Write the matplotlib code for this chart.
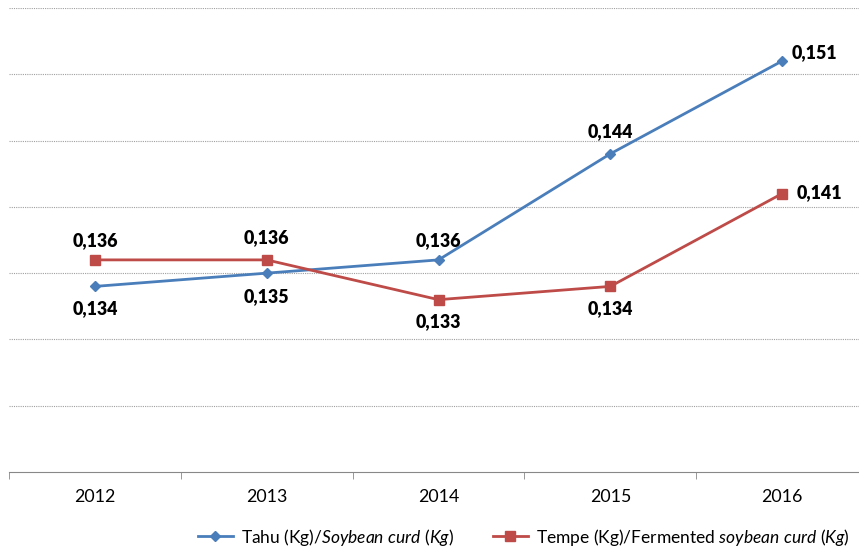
import matplotlib
matplotlib.use('Agg')
import matplotlib.pyplot as plt
from matplotlib.lines import Line2D

plt.rcParams['font.family'] = ['Lato', 'DejaVu Sans']
plt.rcParams['mathtext.fontset'] = 'custom'
plt.rcParams['mathtext.rm'] = 'Lato'
plt.rcParams['mathtext.it'] = 'Lato:italic'

years = ['2012', '2013', '2014', '2015', '2016']
tahu = [0.134, 0.135, 0.136, 0.144, 0.151]
tempe = [0.136, 0.136, 0.133, 0.134, 0.141]
tahu_label = 'Tahu (Kg)/$\\it{Soybean\\ curd\\ (Kg)}$'
tempe_label = 'Tempe (Kg)/Fermented $\\it{soybean\\ curd\\ (Kg)}$'

# label offsets in points (dx, dy)
tahu_off = [(0, -16), (0, -17), (0, 14), (0, 16), (23, 6)]
tempe_off = [(0, 14), (0, 16), (0, -16), (0, -16), (27, 1)]

blue = '#4a7ebb'
red = '#be4b48'

fig = plt.figure(figsize=(8.59, 5.48), dpi=100)
ax = fig.add_axes([9 / 859, 1 - 472 / 548, 859 / 859, (472 - 8) / 548])

x = list(range(len(years)))
ax.plot(x, tahu, color=blue, lw=2, marker='D', ms=5, label=tahu_label)
ax.plot(x, tempe, color=red, lw=2, marker='s', ms=7, label=tempe_label)

for i, v in enumerate(tahu):
    ax.annotate(f'{v:.3f}'.replace('.', ','), (i, v), xytext=tahu_off[i],
                textcoords='offset points', ha='center', va='center',
                fontsize=12.8, fontweight='heavy')
for i, v in enumerate(tempe):
    ax.annotate(f'{v:.3f}'.replace('.', ','), (i, v), xytext=tempe_off[i],
                textcoords='offset points', ha='center', va='center',
                fontsize=12.8, fontweight='heavy')

ax.set_xlim(-0.5, 4.5)
ax.set_ylim(0.12, 0.155)
ax.set_yticks([0.125, 0.13, 0.135, 0.14, 0.145, 0.15, 0.155])
ax.yaxis.grid(True, linestyle=(0, (1, 1)), color='#a0a0a0', lw=0.8)
ax.tick_params(axis='y', left=False, labelleft=False)
ax.set_xticks(x)
ax.set_xticklabels(years, fontsize=12.8)
ax.set_xticks([i + 0.5 for i in range(-1, 5)], minor=True)
ax.tick_params(axis='x', which='major', length=0, pad=12)
ax.tick_params(axis='x', which='minor', length=5, color='#888888', direction='out')
for s in ['top', 'right', 'left']:
    ax.spines[s].set_visible(False)
ax.spines['bottom'].set_color('#888888')

handles = [Line2D([], [], color=blue, lw=2, marker='D', ms=5),
           Line2D([], [], color=red, lw=2, marker='s', ms=7)]
fig.legend(handles, [tahu_label, tempe_label], loc='center',
           bbox_to_anchor=(524 / 859, 1 - 537 / 548), ncol=2, frameon=False,
           fontsize=12.5, handlelength=2, handletextpad=0.5, columnspacing=2.2)

fig.savefig('out.png', dpi=100)
